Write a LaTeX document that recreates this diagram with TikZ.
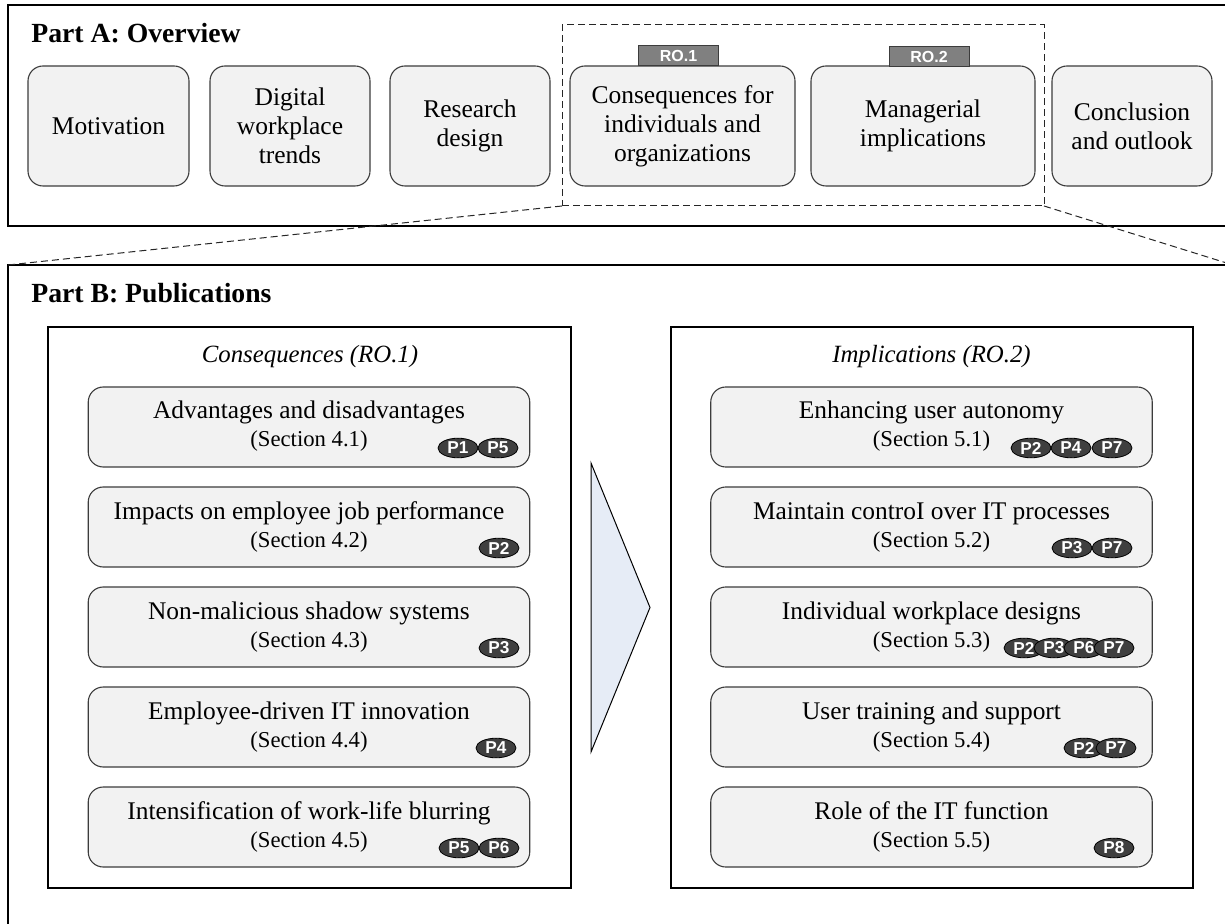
\documentclass[tikz,border=0pt]{standalone}
\usepackage{fontspec}
\setmainfont{Liberation Serif}
\newfontfamily\tagsans{Liberation Sans}
\usetikzlibrary{shapes.geometric}

\definecolor{boxfill}{HTML}{F2F2F2}
\definecolor{boxline}{HTML}{3C3C3C}
\definecolor{badgefill}{HTML}{3F3F3F}
\definecolor{tagfill}{HTML}{808080}
\definecolor{arrowfill}{HTML}{E6ECF6}

\tikzset{
  frame/.style={draw=black, line width=0.6pt, inner sep=0pt, outer sep=0pt},
  topbox/.style={draw=boxline, fill=boxfill, rounded corners=7.5pt, line width=0.55pt,
    minimum height=60pt, align=center, inner sep=0pt, outer sep=0pt,
    font=\fontsize{12.75}{14.6}\selectfont},
  pubbox/.style={draw=boxline, fill=boxfill, rounded corners=7.5pt, line width=0.55pt,
    minimum width=220.75pt, minimum height=40pt, inner sep=0pt, outer sep=0pt},
  boxtitle/.style={anchor=base, inner sep=0pt, font=\fontsize{12.7}{15}\selectfont},
  boxsec/.style={anchor=base, inner sep=0pt, font=\fontsize{11.35}{13}\selectfont},
  badge/.style={ellipse, draw=black, fill=badgefill, line width=0.4pt,
    minimum width=20pt, minimum height=9.8pt, inner sep=0pt, text=white,
    font=\tagsans\bfseries\fontsize{8.6}{8.6}\selectfont},
  rotag/.style={draw=boxline, fill=tagfill, line width=0.5pt, minimum width=40pt,
    minimum height=10pt, inner sep=0pt, text=white,
    font=\tagsans\bfseries\fontsize{8}{8}\selectfont},
  zoomline/.style={draw=black!85, dash pattern=on 3.5pt off 2pt, line width=0.5pt},
  heading/.style={anchor=base west, inner sep=0pt, font=\bfseries\fontsize{13.85}{16}\selectfont},
  colhead/.style={anchor=base, inner sep=0pt, font=\itshape\fontsize{12.4}{14}\selectfont},
}

% one publication box: name, centre x, top y, title, section
\newcommand\pubentry[5]{%
  \node[pubbox] (#1) at (#2,#3+40) {};
  \node[boxtitle] (#1-t) at (#2,#3+32) {#4};
  \node[boxsec] (#1-s) at (#2,#3+60) {#5};
}

\begin{document}
\begin{tikzpicture}[x=0.5pt,y=-0.5pt]
\useasboundingbox (0,0) rectangle (1225,924);
\clip (0,0) rectangle (1225,924);

% ---- Part A ----
\node[frame, minimum width=616pt, minimum height=110.5pt] (partA) at (624,115.5) {};
\node[heading] (headA) at (31,43) {Part A: Overview};
\node[zoomline, minimum width=241pt, minimum height=90.5pt, inner sep=0pt, outer sep=0pt] (zoom) at (803,115.5) {};

\node[topbox, minimum width=80.5pt] (mot) at (108.5,126) {Motivation};
\node[topbox, minimum width=80pt] (dig) at (290,126) {Digital\\workplace\\trends};
\node[topbox, minimum width=80pt] (res) at (470,126) {Research\\design};
\node[topbox, minimum width=112.5pt] (con) at (682.5,126) {Consequences for\\individuals and\\organizations};
\node[topbox, minimum width=112pt] (man) at (923,126) {Managerial\\implications};
\node[topbox, minimum width=80pt] (clo) at (1132,126) {Conclusion\\and outlook};

\node[rotag] (ro1) at (678.5,56) {RO.1};
\node[rotag] (ro2) at (929,57) {RO.2};

% ---- Part B ----
\node[frame, minimum width=612.5pt, minimum height=347.5pt] (partB) at (620.5,612.5) {};
\node[heading] (headB) at (31,303) {Part B: Publications};

\draw[zoomline] (zoom.south west) -- (partB.north west);
\draw[zoomline] (zoom.south east) -- (partB.north east);

\node[frame, minimum width=261.5pt, minimum height=280.5pt] (cframe) at (309.5,607.5) {};
\node[frame, minimum width=261pt, minimum height=280.5pt] (iframe) at (932,607.5) {};
\node[colhead] (chead) at (310,363) {Consequences (RO.1)};
\node[colhead] (ihead) at (931.5,363) {Implications (RO.2)};

% transition arrow between the two columns
\draw[black, fill=arrowfill, line width=0.5pt] (591,463) -- (650,607.5) -- (591,752) -- cycle;

% consequences
\pubentry{c1}{309}{387}{Advantages and disadvantages}{(Section 4.1)}
\pubentry{c2}{309}{487}{Impacts on employee job performance}{(Section 4.2)}
\pubentry{c3}{309}{587}{Non-malicious shadow systems}{(Section 4.3)}
\pubentry{c4}{309}{687}{Employee-driven IT innovation}{(Section 4.4)}
\pubentry{c5}{309}{787}{Intensification of work-life blurring}{(Section 4.5)}

% implications
\pubentry{i1}{931.5}{387}{Enhancing user autonomy}{(Section 5.1)}
\pubentry{i2}{931.5}{487}{Maintain controI over IT processes}{(Section 5.2)}
\pubentry{i3}{931.5}{587}{Individual workplace designs}{(Section 5.3)}
\pubentry{i4}{931.5}{687}{User training and support}{(Section 5.4)}
\pubentry{i5}{931.5}{787}{Role of the IT function}{(Section 5.5)}

% publication badges
\node[badge] (c1-a) at (458,448) {P1};
\node[badge] (c1-b) at (498,448) {P5};
\node[badge] (c2-a) at (499,548) {P2};
\node[badge] (c3-a) at (499,648) {P3};
\node[badge] (c4-a) at (496,748) {P4};
\node[badge] (c5-a) at (459,848) {P5};
\node[badge] (c5-b) at (499,848) {P6};

\node[badge] (i1-a) at (1031,448) {P2};
\node[badge] (i1-b) at (1071,448) {P4};
\node[badge] (i1-c) at (1112,448) {P7};
\node[badge] (i2-a) at (1072,548) {P3};
\node[badge] (i2-b) at (1112,548) {P7};
\node[badge] (i3-a) at (1024,648) {P2};
\node[badge] (i3-b) at (1054,648) {P3};
\node[badge] (i3-c) at (1084,648) {P6};
\node[badge] (i3-d) at (1114,648) {P7};
\node[badge] (i4-a) at (1084,748) {P2};
\node[badge] (i4-b) at (1116,748) {P7};
\node[badge] (i5-a) at (1114,848) {P8};
\end{tikzpicture}
\end{document}
